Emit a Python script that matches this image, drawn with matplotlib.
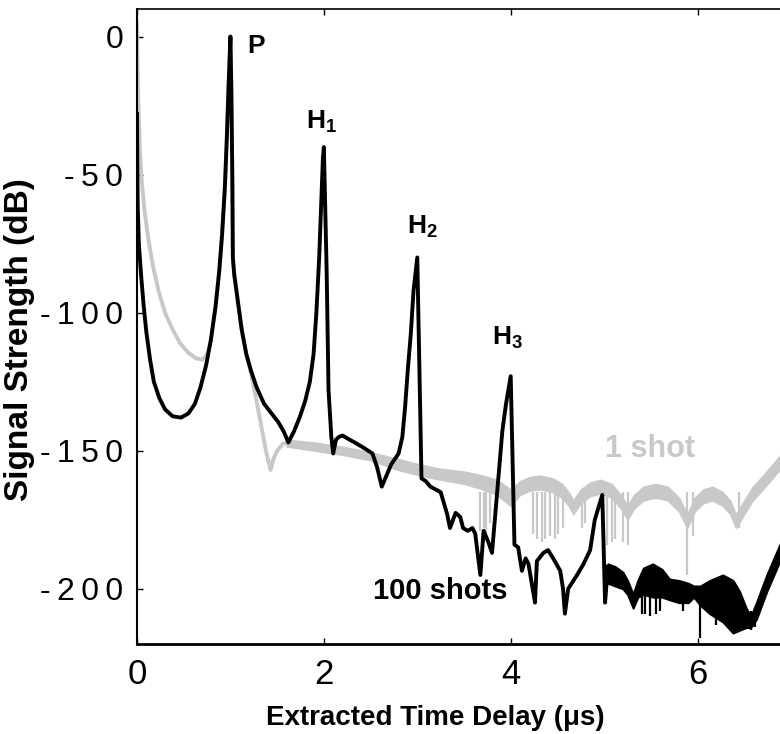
from __future__ import annotations

import matplotlib

matplotlib.use("Agg")
import matplotlib.pyplot as plt
from matplotlib import font_manager

# ---- data (x in microseconds, y in dB) ----
black_x = [0.0, 0.003, 0.008, 0.02, 0.043, 0.07, 0.10, 0.14, 0.18, 0.24, 0.30,
           0.38, 0.47, 0.55, 0.62, 0.68, 0.74, 0.79, 0.84, 0.88, 0.91, 0.94,
           0.96, 0.98, 1.0, 1.01, 1.02, 1.026, 1.04, 1.08, 1.12, 1.17, 1.22,
           1.28, 1.36, 1.44, 1.51, 1.57, 1.62, 1.68, 1.74, 1.80, 1.85, 1.89,
           1.92, 1.95, 1.97, 1.99, 2.0, 2.01, 2.03, 2.05, 2.08, 2.10, 2.13,
           2.16, 2.20, 2.25, 2.33, 2.43, 2.52, 2.57, 2.62, 2.67, 2.72, 2.80,
           2.84, 2.87, 2.90, 2.93, 2.96, 3.0, 3.045, 3.09, 3.14, 3.25, 3.32,
           3.35, 3.41, 3.46, 3.49, 3.54, 3.59, 3.62, 3.675, 3.71, 3.76, 3.80,
           3.86, 3.91, 3.95, 4.0, 4.04, 4.08, 4.12, 4.16, 4.19, 4.26, 4.28,
           4.35, 4.40, 4.455, 4.53, 4.56, 4.58, 4.615, 4.71, 4.78, 4.85, 4.90,
           4.98, 5.01, 5.04]
black_y = [-28, -45, -62, -75, -86, -97, -107, -117, -125, -131, -135,
           -137.5, -138, -136.5, -133, -127, -119, -110, -98, -85, -72, -55,
           -38, -18, 0, -20, -50, -80, -86, -96, -106, -115, -121,
           -127, -133, -136.5, -139.5, -143, -147, -143, -138, -132, -125, -115,
           -100, -80, -62, -44, -40, -55, -85, -128, -145, -151, -146,
           -145, -144.5, -145.5, -147, -149, -151, -156, -163, -159, -155, -151,
           -145, -134, -120, -108, -92, -80, -160, -161, -163, -165, -173,
           -178, -172.5, -174, -178, -179, -178, -180, -195, -179, -183, -187,
           -163, -143, -133, -123, -184, -185, -193.5, -189, -191, -205, -190,
           -187, -186, -189, -193.5, -200, -209, -200, -195, -191, -186, -175,
           -166, -205, -192]

# dense-noise band of the 100 shot trace
black_band_x = [5.04, 5.12, 5.20, 5.25, 5.31, 5.36, 5.42, 5.52, 5.62, 5.70,
                5.80, 5.90, 5.96, 6.03, 6.13, 6.27, 6.38, 6.45, 6.52, 6.57,
                6.63, 6.74, 6.88, 6.95]
black_band_hi = [-191, -192, -194, -197, -202, -197, -192.5, -191, -193, -196.5,
                 -197, -198, -199, -199, -197, -195, -197, -201, -207, -210,
                 -205, -195, -184, -180]
black_band_lo = [-198, -199, -200, -202, -207, -203, -202, -203, -203, -204,
                 -205, -205, -203, -206, -209, -212, -216, -215, -214, -214,
                 -211, -201, -190, -186]
black_spike_x = [5.40, 5.44, 5.49, 5.55, 5.60, 5.84, 6.03, 6.20, 6.57, 6.62]
black_spike_lo = [-209, -209, -210, -209, -208, -208, -218, -213, -215, -214]
black_spike_hi = [-200, -200, -200, -200, -200, -200, -202, -205, -208, -208]

gray_x = [0.0, 0.006, 0.015, 0.03, 0.05, 0.08, 0.12, 0.17, 0.23, 0.30, 0.38,
          0.46, 0.55, 0.63, 0.70, 0.75, 0.79, 0.84, 0.88, 0.91, 0.94, 0.96,
          0.98, 1.0, 1.01, 1.02, 1.026, 1.04, 1.08, 1.12, 1.17, 1.22, 1.28,
          1.33, 1.38, 1.43, 1.46, 1.50, 1.56, 1.62]
gray_y = [5, -10, -25, -40, -52, -63, -73, -83, -92, -100, -106,
          -111, -114.5, -116.5, -117, -115, -110, -98, -85, -72, -55, -38,
          -18, 0, -20, -50, -80, -86, -96, -106, -115, -122, -132,
          -141, -150, -157, -153, -150, -147.5, -147]

gray_band_x = [1.6, 1.9, 2.2, 2.5, 2.8, 3.03, 3.25, 3.5, 3.7, 3.85, 4.0, 4.1,
               4.2, 4.32, 4.45, 4.55, 4.62, 4.67, 4.75, 4.85, 4.96, 5.08, 5.18,
               5.25, 5.32, 5.42, 5.55, 5.68, 5.8, 5.89, 5.97, 6.06, 6.16, 6.27,
               6.35, 6.41, 6.5, 6.59, 6.7, 6.8, 6.9]
gray_band_hi = [-146, -147, -148.5, -150.5, -153, -155, -156.5, -157.5, -159,
                -160.5, -164, -161, -159.5, -159, -160, -162, -165, -168, -164,
                -161.5, -160.5, -162, -166, -170, -166, -163, -162, -163, -167,
                -173, -167, -164, -163, -165, -168, -173, -168, -163, -159,
                -155, -151]
gray_band_lo = [-148.5, -150, -151.5, -153.5, -157, -159, -160.5, -162, -164,
                -166, -170, -166, -164.5, -164, -165, -167, -170, -173, -169,
                -166.5, -165.5, -167, -171, -175, -171, -168, -167, -168, -172,
                -178, -172, -169, -168, -170, -173, -178, -173, -168, -164,
                -160, -156]
gray_spike_x = [3.67, 3.71, 3.74, 3.78, 4.24, 4.28, 4.33, 4.37, 4.42, 4.47,
                4.51, 4.56, 4.76, 4.80, 5.03, 5.08, 5.12, 5.20, 5.26, 5.89,
                5.95, 6.44]
gray_spike_lo = [-179, -178, -180, -176, -180, -182, -183, -182, -181, -182,
                 -180, -178, -178, -176, -184, -183, -182, -183, -184, -195,
                 -181, -178]

peak_labels = ["P", r"$\mathbf{H_1}$", r"$\mathbf{H_2}$", r"$\mathbf{H_3}$"]
peak_label_x = [1.18, 1.98, 3.05, 3.97]
peak_label_y = [-3.3, -31, -69, -109]
peak_label_ha = ["left", "center", "center", "center"]

y_ticks = [0, -50, -100, -150, -200]
x_ticks = [0, 2, 4, 6]

GRAY = "#c8c8c8"

names = {f.name for f in font_manager.fontManager.ttflist}
narrow = "Liberation Sans Narrow" if "Liberation Sans Narrow" in names else "Liberation Sans"
plt.rcParams["font.family"] = [narrow, "DejaVu Sans"]
plt.rcParams["mathtext.fontset"] = "custom"
plt.rcParams["mathtext.bf"] = f"{narrow}:bold"
plt.rcParams["mathtext.rm"] = narrow

fig = plt.figure(figsize=(7.8, 7.34), dpi=100)
ax = fig.add_axes([137 / 780, 90 / 734, 654 / 780, 635 / 734])

# 1 shot
ax.plot(gray_x, gray_y, color=GRAY, lw=2.8, solid_joinstyle="round", zorder=2)
ax.fill_between(gray_band_x, gray_band_lo, gray_band_hi, color=GRAY,
                edgecolor=GRAY, lw=1.0, zorder=2)
ax.vlines(gray_spike_x, gray_spike_lo, [-165] * len(gray_spike_x),
          color=GRAY, lw=1.6, zorder=2)

# 100 shots
ax.plot(black_x, black_y, color="black", lw=2.8, solid_joinstyle="round", zorder=3)
ax.fill_between(black_band_x, black_band_lo, black_band_hi, color="black",
                edgecolor="black", lw=1.5, zorder=3)
ax.vlines(black_spike_x, black_spike_lo, black_spike_hi, color="black", lw=1.6, zorder=3)

for label, lx, ly, ha in zip(peak_labels, peak_label_x, peak_label_y, peak_label_ha):
    ax.text(lx, ly, label, ha=ha, va="center", fontsize=19, fontweight="bold")

ax.text(5.01, -149.3, "1 shot", color=GRAY, fontsize=22, fontweight="bold",
        ha="left", va="center")
ax.text(3.97, -200.7, "100 shots", color="black", fontsize=21, fontweight="bold",
        ha="right", va="center")

ax.set_xlim(0, 7)
ax.set_ylim(-220, 10)
ax.set_xticks(x_ticks)
ax.set_xticklabels([str(t) for t in x_ticks])
ax.set_yticks(y_ticks)
ax.set_yticklabels(["\u2009".join(str(t)) for t in y_ticks])
ax.tick_params(direction="in", length=4, width=1, top=True, pad=10)
ax.tick_params(axis="x", labelsize=25)
ax.tick_params(axis="y", labelsize=23)
for side, w in [("left", 1.5), ("bottom", 2.0), ("top", 1.2), ("right", 1.2)]:
    ax.spines[side].set_linewidth(w)

ax.set_xlabel("Extracted Time Delay (\u03bcs)", fontsize=20, fontweight="bold", va="baseline")
ax.xaxis.set_label_coords(0.456, -0.1276)
ax.set_ylabel("Signal Strength (dB)", fontsize=24, fontweight="bold")
ax.yaxis.set_label_coords(-0.156, 0.48)

fig.savefig("out.png", dpi=100)
plt.close(fig)
